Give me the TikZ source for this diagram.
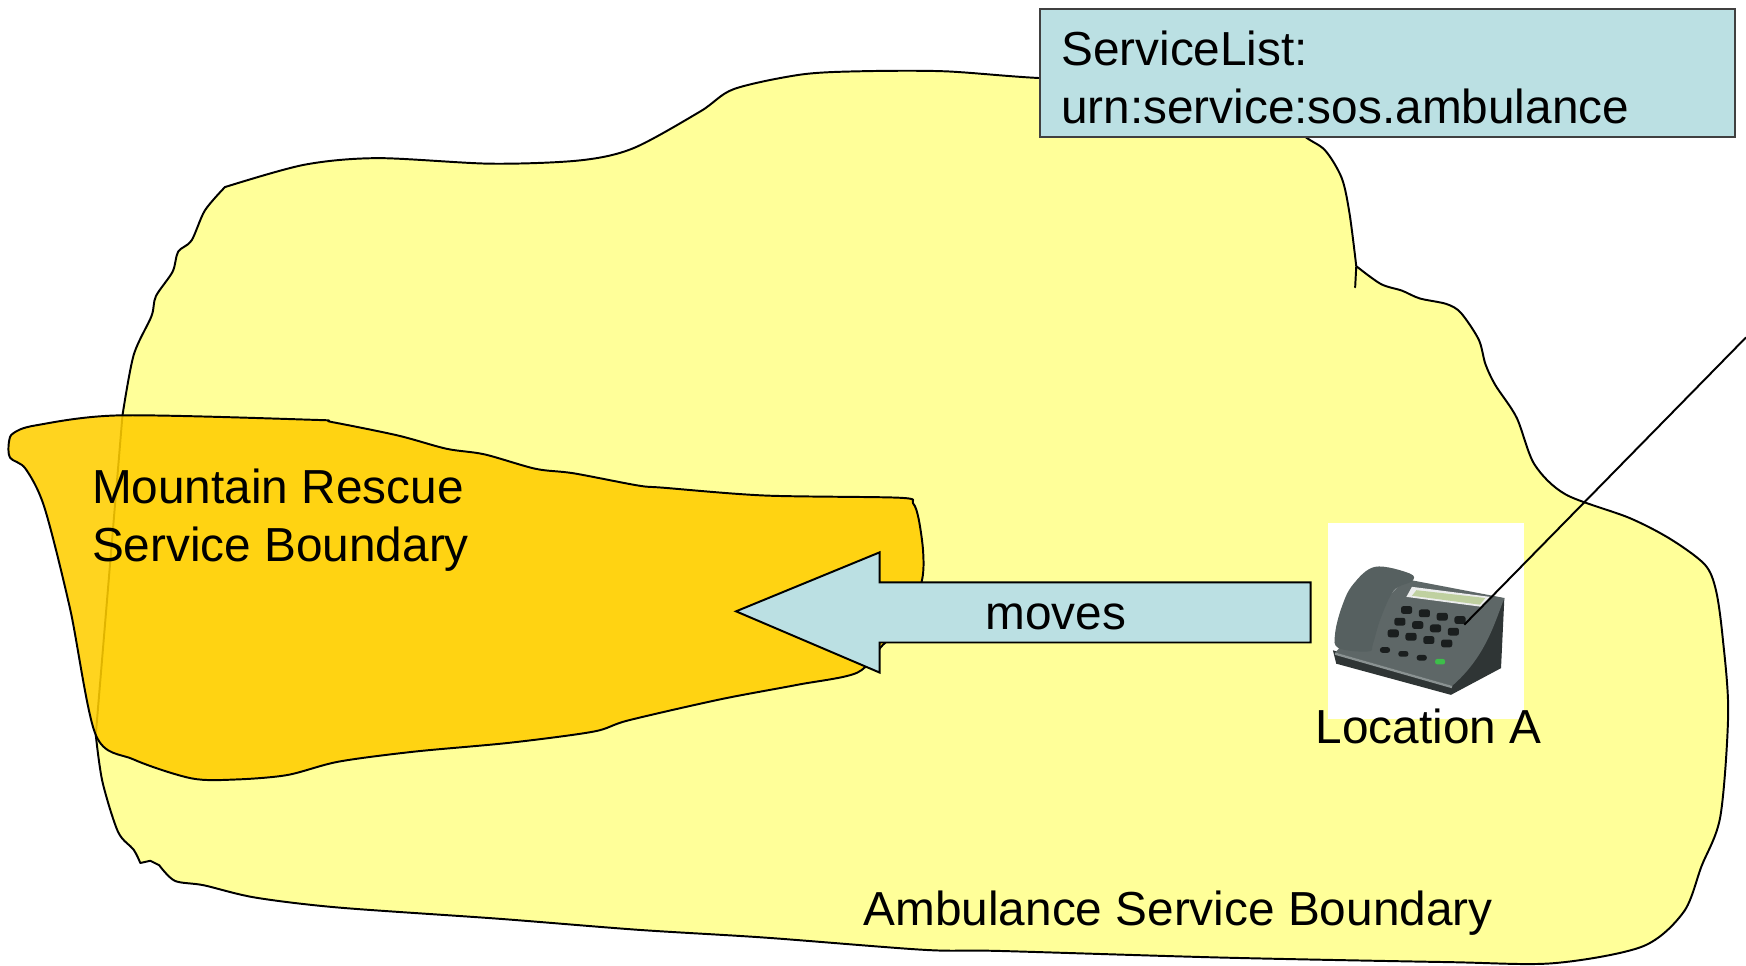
\documentclass[tikz,border=0pt]{standalone}
\usepackage{fontspec}
\setmainfont{Liberation Sans}
\usetikzlibrary{calc}

\definecolor{ambulanceyellow}{HTML}{FFFF99}
\definecolor{rescueorange}{HTML}{FFCE00}
\definecolor{listblue}{HTML}{BBE0E3}
\definecolor{phonedark}{HTML}{2F3535}
\definecolor{phonegrey}{HTML}{5E6767}
\definecolor{phoneedge}{HTML}{8A9292}
\definecolor{handsetgrey}{HTML}{566060}
\definecolor{keyblack}{HTML}{1A1E1E}
\definecolor{keygreen}{HTML}{3DBE4A}
\definecolor{screengreen}{HTML}{BFD0A0}

\tikzset{
  ambulance/.style={draw=black, line width=0.5pt, line join=round, fill=ambulanceyellow},
  rescue/.style={draw=black, line width=0.5pt, line join=round, fill=rescueorange, fill opacity=0.88},
  movearrow/.style={draw=black, line width=0.5pt, fill=listblue},
  listbox/.style={draw=black!75, line width=0.6pt, fill=listblue, text width=58.6mm, align=left,
    inner xsep=1.9mm, inner ysep=0pt, minimum height=11.5mm},
  phonebox/.style={fill=white, inner sep=0pt, minimum size=17.6mm},
  phonekey/.style={fill=keyblack, rounded corners=0.6pt},
  connector/.style={draw=black, line width=0.5pt}
}

\begin{document}
\begin{tikzpicture}[x=0.1mm,y=-0.1mm,font=\fontsize{12.2}{14.8}\selectfont]
	%%%%% AREAS %%%%%
	\useasboundingbox (0,0) rectangle (1568,867);
	
	\draw[ambulance] (1217,258) -- (1218,239)
		-- plot[smooth,tension=.5] coordinates {(1218,239) (1212,192) (1205,160) (1190,135) (1171,122) (1140,95) (1060,75) (932,70) (848,64) (772,64) (719,67) (659,80) (629,100) (569,133) (521,144) (441,147) (339,142) (273,148) (202,168)}
		-- plot[smooth,tension=.5] coordinates {(202,168) (184,189) (172,216) (160,226) (155,244) (140,266) (136,284) (120,319) (110,373)}
		-- (86,660)
		-- plot[smooth,tension=.5] coordinates {(86,660) (92,702) (106,747) (120,763) (126,775)}
		-- (135,773) -- (143,777)
		-- plot[smooth,tension=.5] coordinates {(143,777) (157,791) (183,795) (229,806) (304,815) (447,825) (573,835) (687,842) (830,853) (898,854) (1100,860) (1300,864) (1395,865) (1475,850) (1512,819) (1528,778) (1545,733) (1552,640) (1547,572) (1541,530) (1531,507) (1500,484) (1463,465) (1406,444) (1378,417) (1362,375) (1343,346) (1334,327) (1328,305) (1312,281) (1299,273) (1275,268) (1259,261) (1240,255) (1218,239)}
		-- cycle;
	
	\draw[rescue] plot[smooth cycle,tension=.5] coordinates {(12,389) (32,382) (108,373) (281,377) (298,379) (357,391) (401,403) (435,408) (481,421) (515,425) (573,436) (596,438) (687,445) (808,447) (820,452) (825,466) (829,495) (828,521) (815,560) (793,579) (770,604) (716,615) (647,628) (564,647) (533,657) (458,667) (372,675) (304,684) (258,696) (212,700) (172,699) (120,682) (86,660) (63,547) (40,456) (23,421) (9,411) (8,397)};
	
	\node[anchor=base west, align=left, inner sep=0pt] (rescuelabel) at (82,504) {Mountain Rescue\\Service Boundary};
	
	%%%%% MOVE %%%%%
	\draw[movearrow] (661,549) -- (790,496) -- (790,523) -- (1177,523) -- (1177,577) -- (790,577) -- (790,604) -- cycle;
	\node[anchor=base, inner sep=0pt] (moves) at (948,565) {moves};
	
	%%%%% PHONE %%%%%
	\node[phonebox] (phone) at (1281,558) {};
	\fill[phonedark] (1197,584) -- (1303,614) -- (1351,537) -- (1348,600) -- (1303,624) -- (1200,596) -- cycle;
	\fill[phonegrey] (1262,520) -- (1351,537) .. controls (1342,560) and (1334,590) .. (1304,616) -- (1199,586) -- cycle;
	\draw[phoneedge, line width=0.6pt] (1199,587) -- (1304,617);
	\fill[white!88!phonegrey] (1268,527) -- (1338,536) -- (1331,545) -- (1263,536) -- cycle;
	\fill[screengreen] (1272,530) -- (1334,537) -- (1329,543) -- (1268,535) -- cycle;
	\fill[handsetgrey] plot[smooth cycle,tension=.6] coordinates {(1235,509) (1266,515) (1268,522) (1252,530) (1240,555) (1233,578) (1229,585) (1202,582) (1199,569) (1205,545) (1215,525)};
	\foreach \c in {0,...,3}
		\foreach \r in {0,1,2}
			\fill[phonekey] ({1263.2-6*\r+16*\c-5},{547.8+10.5*\r+3*\c-3.5}) rectangle +(10,7);
	\foreach \c/\col in {0/keyblack,1/keyblack,2/keyblack,3/keygreen}
		\fill[phonekey, fill=\col] ({1243.8+16.5*\c-4.5},{583.7+3.5*\c-2.5}) rectangle +(9,5);
	
	\node[anchor=base, inner sep=0pt] (locationA) at (1283,668) {Location A};
	\node[anchor=base, inner sep=0pt] (ambulancelabel) at (1058,831) {Ambulance Service Boundary};
	
	%%%%% SERVICE LIST %%%%%
	\node[listbox, anchor=north west] (servicelist) at (933,7) {\rule{0pt}{3.9mm}ServiceList:\\urn:service:sos.ambulance};
	
	\coordinate (phonekey) at (1315,561);
	\coordinate (offpage) at (1568,303);
	\draw[connector] (phonekey) -- (offpage);
\end{tikzpicture}
\end{document}
